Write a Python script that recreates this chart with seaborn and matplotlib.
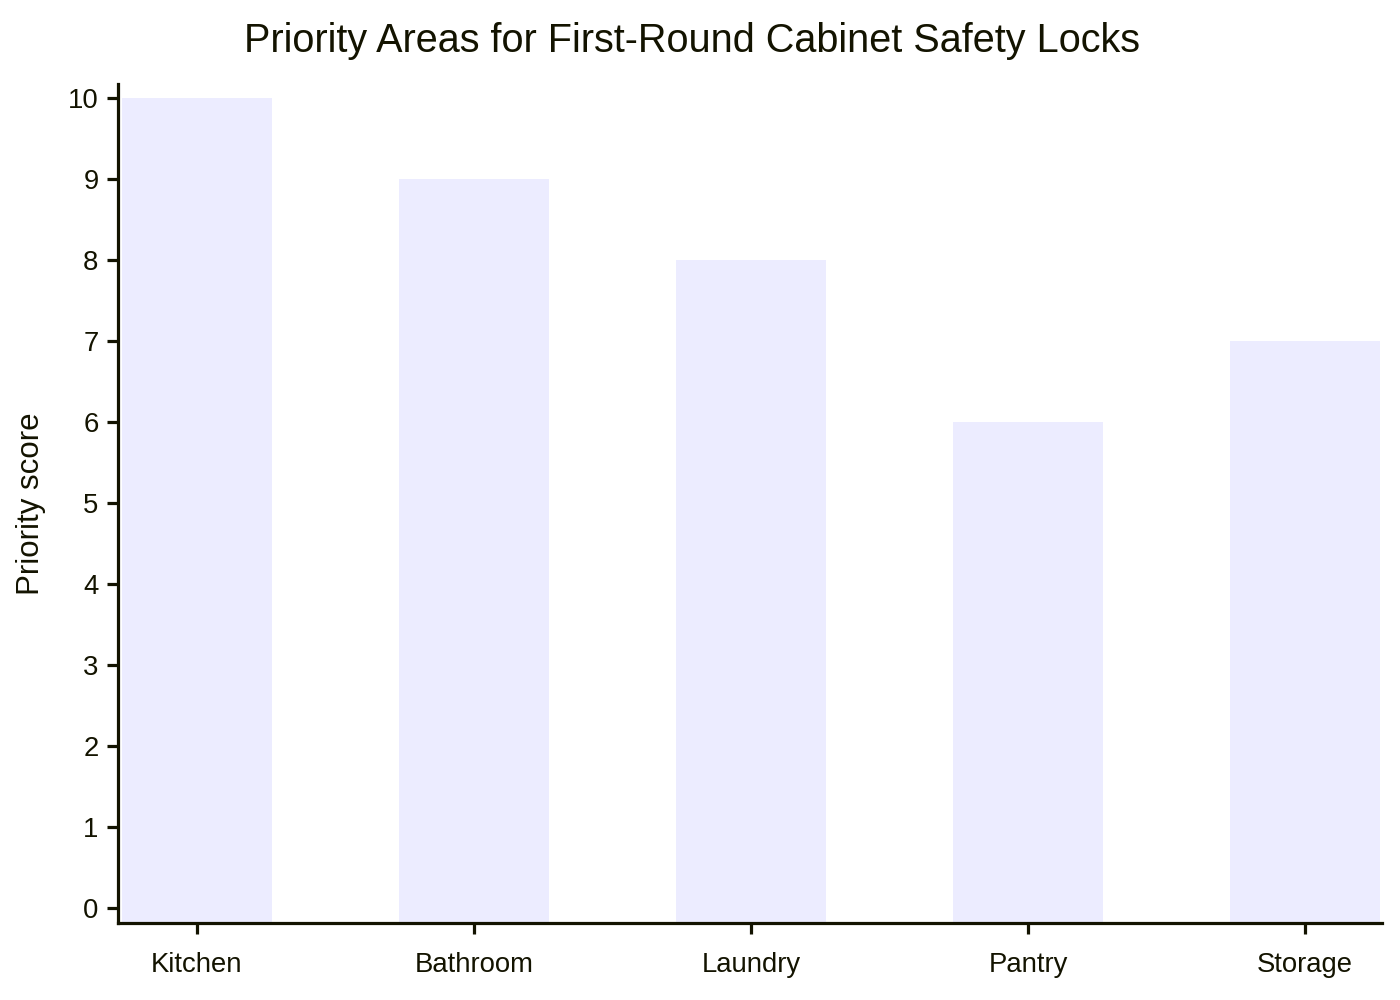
import matplotlib
matplotlib.use("Agg")
import matplotlib.pyplot as plt
import seaborn as sns
import pandas as pd

# data
areas = ["Kitchen", "Bathroom", "Laundry", "Pantry", "Storage"]
scores = [10, 9, 8, 6, 7]
y_ticks = list(range(0, 11))

df = pd.DataFrame({"area": areas, "score": scores})

sns.set_theme(style="white")
plt.rcParams["font.family"] = ["Liberation Sans", "DejaVu Sans"]

ink = "#131300"
bar_color = "#ECECFF"

fig = plt.figure(figsize=(14, 10), dpi=100)
ax = fig.add_axes([118 / 1400, 1 - 923 / 1000, (1382 - 118) / 1400, (923 - 84) / 1000])

sns.barplot(data=df, x="area", y="score", color=bar_color, width=0.54,
            saturation=1, edgecolor="none", ax=ax)

ymin, ymax = -0.19, 10.17
ax.set_ylim(ymin, ymax)
ax.set_xlim(-0.285, 4.278)

# bars run down to the bottom of the plot area
for p in ax.patches:
    top = p.get_y() + p.get_height()
    p.set_y(ymin)
    p.set_height(top - ymin)

ax.set_yticks(y_ticks)
ax.set_xlabel("")
ax.set_ylabel("Priority score", fontsize=22.5, color=ink, labelpad=16)

# title centred on the figure, not the axes
fig.text(692 / 1400, 1 - 52 / 1000,
         "Priority Areas for First-Round Cabinet Safety Locks",
         fontsize=28.5, color=ink, ha="center", va="baseline")

for side in ["top", "right"]:
    ax.spines[side].set_visible(False)
for side in ["left", "bottom"]:
    ax.spines[side].set_color(ink)
    ax.spines[side].set_linewidth(2.3)

ax.tick_params(axis="y", length=8, width=2.3, color=ink, labelcolor=ink,
               labelsize=19.8, pad=6, left=True)
ax.tick_params(axis="x", length=8, width=2.3, color=ink, labelcolor=ink,
               labelsize=19.8, pad=13, bottom=True)

fig.savefig("out.png", dpi=100)
